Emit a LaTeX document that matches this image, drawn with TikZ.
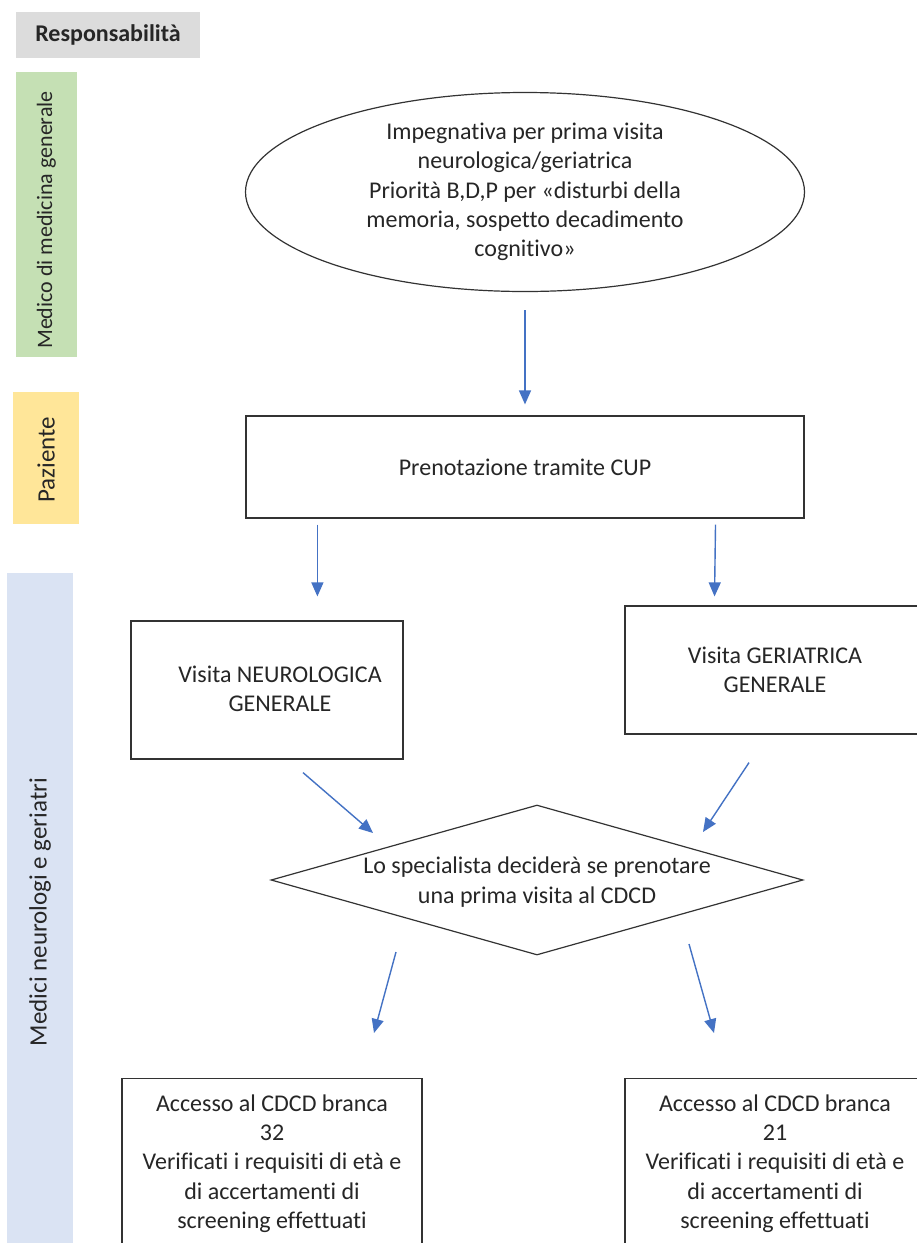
\documentclass[tikz,border=0pt]{standalone}
\usepackage{fontspec}
\setmainfont{Carlito}[Ligatures=NoCommon]
\usetikzlibrary{shapes.geometric,arrows.meta,calc}
\definecolor{txt}{HTML}{262626}
\definecolor{grn}{HTML}{C5E0B4}
\definecolor{ylw}{HTML}{FFE699}
\definecolor{blu}{HTML}{DAE3F3}
\definecolor{gry}{HTML}{DCDCDC}
\definecolor{arrblue}{HTML}{4472C4}
\tikzset{
  lane/.style={inner sep=0pt, text=txt, font=\fontsize{25}{30}\selectfont},
  flowbox/.style={draw=black!80, line width=1.2pt, fill=white, inner sep=0pt, align=center, text=txt, font=\fontsize{24}{29.3}\selectfont},
  lbl/.style={inner sep=0pt, align=center, text=txt, font=\fontsize{24}{29.3}\selectfont},
  arr/.style={draw=arrblue, line width=1.4pt, -{Triangle[length=14pt,width=12pt]}}
}
\begin{document}
\begin{tikzpicture}[x=1pt,y=-1pt]
\useasboundingbox (0,0) rectangle (917,1243);
\clip (0,0) rectangle (917,1243);
\fill[white] (0,0) rectangle (917,1243);
% responsibility column
\node[fill=gry, minimum width=184pt, minimum height=46pt, inner sep=0pt, text=txt, font=\bfseries\fontsize{24}{28}\selectfont] (resp) at (108,35) {Responsabilità};
\node[lane, fill=grn, minimum width=285pt, minimum height=61pt, rotate=90] (mmg) at (46.5,214.5) {};
\node[lane, rotate=90, font=\fontsize{22}{26}\selectfont] (mmgt) at (46.5,220) {Medico di medicina generale};
\node[lane, fill=ylw, minimum width=132pt, minimum height=66pt, rotate=90] (paz) at (46,458) {};
\node[lane, rotate=90] (pazt) at (46,459.5) {Paziente};
\node[lane, fill=blu, minimum width=700pt, minimum height=66pt, rotate=90] (med) at (40,923) {};
\node[lane, rotate=90] (medt) at (40,912) {Medici neurologi e geriatri};
% flow
\node[flowbox, ellipse, minimum width=559pt, minimum height=199pt] (ell) at (525,192)
  {Impegnativa per prima visita\\neurologica/geriatrica\\Priorità B,D,P per «disturbi della\\memoria, sospetto decadimento\\cognitivo»};
\node[flowbox, minimum width=558pt, minimum height=102pt] (cup) at (525,467) {Prenotazione tramite CUP};
\node[flowbox, minimum width=272pt, minimum height=138pt] (neuro) at (267,690) {};
\node[lbl] (neurot) at (280,689) {Visita NEUROLOGICA\\GENERALE};
\node[flowbox, minimum width=300pt, minimum height=128pt] (geri) at (775,670) {Visita GERIATRICA\\GENERALE};
\node[flowbox, diamond, shape aspect=3.5467, minimum width=532pt, minimum height=150pt] (dia) at (537,880) {};
\node[lbl] (diat) at (537,882) {Lo specialista deciderà se prenotare\\una prima visita al CDCD};
\node[flowbox, minimum width=300pt, minimum height=170pt, anchor=north] (lb) at (272,1078)
  {Accesso al CDCD branca\\32\\Verificati i requisiti di età e\\di accertamenti di\\screening effettuati};
\node[flowbox, minimum width=300pt, minimum height=170pt, anchor=north] (rb) at (775,1078)
  {Accesso al CDCD branca\\21\\Verificati i requisiti di età e\\di accertamenti di\\screening effettuati};
% connectors
\draw[arr, shorten <=18pt, shorten >=11pt] (ell.south) -- (cup.north);
\draw[arr, shorten <=6pt, shorten >=24pt] ([xshift=72pt]cup.south west) -- ([xshift=187pt]neuro.north west);
\draw[arr, shorten <=6pt, shorten >=9pt] ([xshift=-89pt]cup.south east) -- ([xshift=90pt]geri.north west);
\draw[arr] ($(neuro.south)+(36,13)$) -- ($(dia.center)+(-164,-47)$);
\draw[arr] ($(geri.south)+(-26,28)$) -- ($(dia.center)+(166,-48)$);
\draw[arr] ($(dia.center)+(-141,72)$) -- ($(lb.north)+(102,-45)$);
\draw[arr] ($(dia.center)+(152,64)$) -- ($(rb.north)+(-61,-45)$);
\end{tikzpicture}
\end{document}
